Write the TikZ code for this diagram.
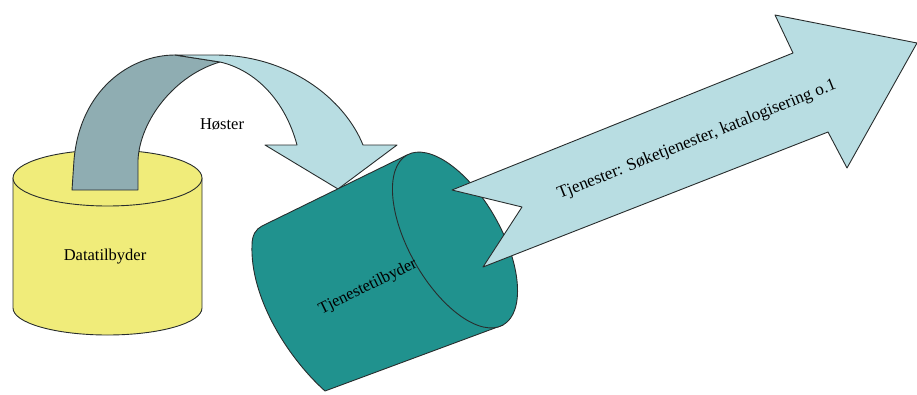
\documentclass[tikz,border=0pt]{standalone}
\usepackage{fontspec}
\setmainfont{Liberation Serif}
\definecolor{cylyellow}{RGB}{240,236,122}
\definecolor{cylteal}{RGB}{32,146,142}
\definecolor{arrowlight}{RGB}{184,221,226}
\definecolor{ribbondark}{RGB}{143,173,178}
\definecolor{edgecol}{RGB}{40,45,45}
\tikzset{
  shapeline/.style={draw=edgecol, line width=0.9pt, line join=round},
  lbl/.style={font=\fontsize{16.5}{19}\selectfont, inner sep=0pt, text=black}
}
\begin{document}
\begin{tikzpicture}[x=1pt,y=-1pt]
\useasboundingbox (0,0) rectangle (917,394);
% yellow cylinder
\path[shapeline, fill=cylyellow] (13,178) -- (13,308)
  arc[start angle=180, end angle=360, x radius=94.5pt, y radius=27pt] -- (202,178) -- cycle;
\path[shapeline, fill=cylyellow] (107.5,178) ellipse [x radius=94.5pt, y radius=28pt];
\node[lbl] (data) at (105,257) {Datatilbyder};
% curved ribbon arrow
\path[shapeline, fill=ribbondark] (72,190) -- (74,160) .. controls (80,90) and (130,55) .. (175,55)
  -- (220,62) .. controls (175,75) and (140,120) .. (138,160) -- (138,190) -- cycle;
\path[shapeline, fill=arrowlight] (175,55) -- (215,55) .. controls (290,55) and (345,100) .. (363,145)
  -- (397,145) -- (338,189) -- (265,145) -- (297,145)
  .. controls (285,100) and (255,70) .. (220,62) -- cycle;
\node[lbl] (hoster) at (222,124) {Høster};
% teal cylinder
\path[shapeline, fill=cylteal] (262,226) -- (407,155) -- (503,325) -- (325,391)
  .. controls (285,355) and (250,295) .. (252,245)
  .. controls (252,235) and (256,229) .. (262,226) -- cycle;
\path[shapeline, fill=cylteal, rotate around={-60.5:(455,240)}] (455,240) ellipse [x radius=97.6pt, y radius=46pt];
\node[lbl, rotate=26] (tjen) at (368,287) {Tjenestetilbyder};
% big arrow
\path[shapeline, fill=arrowlight] (452,190) -- (793,53) -- (775,15) -- (917,43) -- (847,168)
  -- (828,132) -- (483,267) -- (522,207) -- cycle;
\node[lbl, rotate=21.7, font=\fontsize{17.2}{20}\selectfont] (serv) at (697,140) {Tjenester: Søketjenester, katalogisering o.1};
\end{tikzpicture}
\end{document}
